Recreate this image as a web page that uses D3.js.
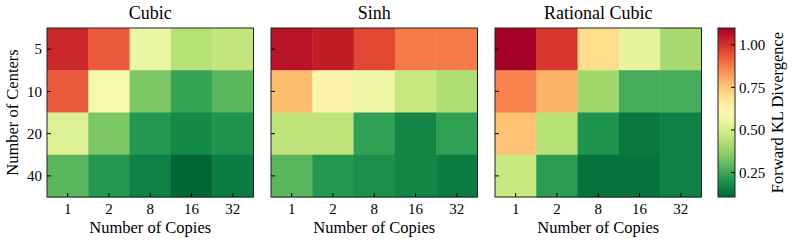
<!DOCTYPE html>
<html>
<head>
<meta charset="UTF-8">
<script src="https://d3js.org/d3.v7.min.js"></script>
<style>
  body { margin: 0; background: #fff; }
</style>
</head>
<body>
<svg width="793" height="243"></svg>
<script>
  // datos
  const copies = ["1", "2", "8", "16", "32"];
  const centers = ["5", "10", "20", "40"];
  const methods = ["Cubic", "Sinh", "Rational Cubic"];

  const cubic = [
    [1.02, 0.93, 0.55, 0.44, 0.46],
    [0.93, 0.59, 0.34, 0.24, 0.29],
    [0.52, 0.34, 0.21, 0.18, 0.20],
    [0.29, 0.21, 0.16, 0.107, 0.15]
  ];
  const sinh = [
    [1.06, 1.04, 0.96, 0.88, 0.88],
    [0.77, 0.63, 0.56, 0.47, 0.42],
    [0.45, 0.45, 0.23, 0.17, 0.23],
    [0.29, 0.21, 0.19, 0.17, 0.15]
  ];
  const rationalCubic = [
    [1.098, 0.99, 0.70, 0.54, 0.41],
    [0.87, 0.79, 0.40, 0.26, 0.26],
    [0.76, 0.44, 0.20, 0.14, 0.16],
    [0.47, 0.22, 0.13, 0.13, 0.16]
  ];
  const cbTicks = [0.25, 0.50, 0.75, 1.00];

  const grids = [cubic, sinh, rationalCubic];
  const FONT = "'Liberation Serif', 'DejaVu Serif', serif";
  const svg = d3.select("svg").style("font-family", FONT);

  const plotTop = 28, plotBottom = 197;
  const panelX = [47, 271, 495];
  const panelW = 206.5;

  const all = grids.flat(2);
  const vmin = d3.min(all), vmax = d3.max(all);
  const color = d3.scaleSequential(t => d3.interpolateRdYlGn(1 - t)).domain([vmin, vmax]);

  const y = d3.scaleBand().domain(centers).range([plotTop, plotBottom]);

  function label(sel) {
    return sel.append("text").style("font-family", FONT).attr("fill", "#000");
  }

  methods.forEach((m, k) => {
    const x = d3.scaleBand().domain(copies).range([panelX[k], panelX[k] + panelW]);
    const g = svg.append("g");

    grids[k].forEach((row, i) => {
      row.forEach((v, j) => {
        g.append("rect")
          .attr("x", x(copies[j]))
          .attr("y", y(centers[i]))
          .attr("width", x.bandwidth() + 0.5)
          .attr("height", y.bandwidth() + 0.5)
          .attr("fill", color(v));
      });
    });

    // marco
    g.append("rect")
      .attr("x", panelX[k]).attr("y", plotTop)
      .attr("width", panelW).attr("height", plotBottom - plotTop)
      .attr("fill", "none").attr("stroke", "#222").attr("stroke-width", 1);

    // ticks x (hacia adentro)
    copies.forEach(c => {
      const cx = x(c) + x.bandwidth() / 2;
      g.append("line").attr("x1", cx).attr("x2", cx)
        .attr("y1", plotBottom).attr("y2", plotBottom - 4)
        .attr("stroke", "#000").attr("stroke-width", 1);
      label(g).attr("x", cx).attr("y", plotBottom + 16.5)
        .attr("text-anchor", "middle").style("font-size", "15px").text(c);
    });

    // ticks y
    centers.forEach(c => {
      const cy = y(c) + y.bandwidth() / 2;
      g.append("line").attr("x1", panelX[k]).attr("x2", panelX[k] + 4)
        .attr("y1", cy).attr("y2", cy)
        .attr("stroke", "#000").attr("stroke-width", 1);
      if (k === 0) {
        label(g).attr("x", panelX[k] - 5).attr("y", cy).attr("dy", "0.35em")
          .attr("text-anchor", "end").style("font-size", "15px").text(c);
      }
    });

    // titulo
    label(g).attr("x", panelX[k] + panelW / 2).attr("y", 19)
      .attr("text-anchor", "middle").style("font-size", "18px").text(m);

    // etiqueta eje x
    label(g).attr("x", panelX[k] + panelW / 2).attr("y", 233)
      .attr("text-anchor", "middle").style("font-size", "16.5px").text("Number of Copies");
  });

  // etiqueta eje y
  label(svg)
    .attr("transform", `translate(18,${(plotTop + plotBottom) / 2}) rotate(-90)`)
    .attr("text-anchor", "middle").style("font-size", "16.5px").text("Number of Centers");

  // barra de color
  const cbX = 718, cbW = 17;
  const cbY = d3.scaleLinear().domain([vmin, vmax]).range([plotBottom, plotTop]);
  const grad = svg.append("defs").append("linearGradient")
    .attr("id", "cb").attr("x1", 0).attr("y1", 1).attr("x2", 0).attr("y2", 0);
  d3.range(0, 1.0001, 0.05).forEach(t => {
    grad.append("stop").attr("offset", t).attr("stop-color", color(vmin + t * (vmax - vmin)));
  });
  svg.append("rect").attr("x", cbX).attr("y", plotTop).attr("width", cbW).attr("height", plotBottom - plotTop)
    .attr("fill", "url(#cb)").attr("stroke", "#222").attr("stroke-width", 1);

  cbTicks.forEach(t => {
    svg.append("line").attr("x1", cbX + cbW).attr("x2", cbX + cbW - 4)
      .attr("y1", cbY(t)).attr("y2", cbY(t)).attr("stroke", "#000").attr("stroke-width", 1);
    label(svg).attr("x", cbX + cbW + 4).attr("y", cbY(t)).attr("dy", "0.35em")
      .style("font-size", "15px").text(d3.format(".2f")(t));
  });

  label(svg)
    .attr("transform", `translate(783,${(plotTop + plotBottom) / 2}) rotate(-90)`)
    .attr("text-anchor", "middle").style("font-size", "16.5px").text("Forward KL Divergence");
</script>
</body>
</html>
